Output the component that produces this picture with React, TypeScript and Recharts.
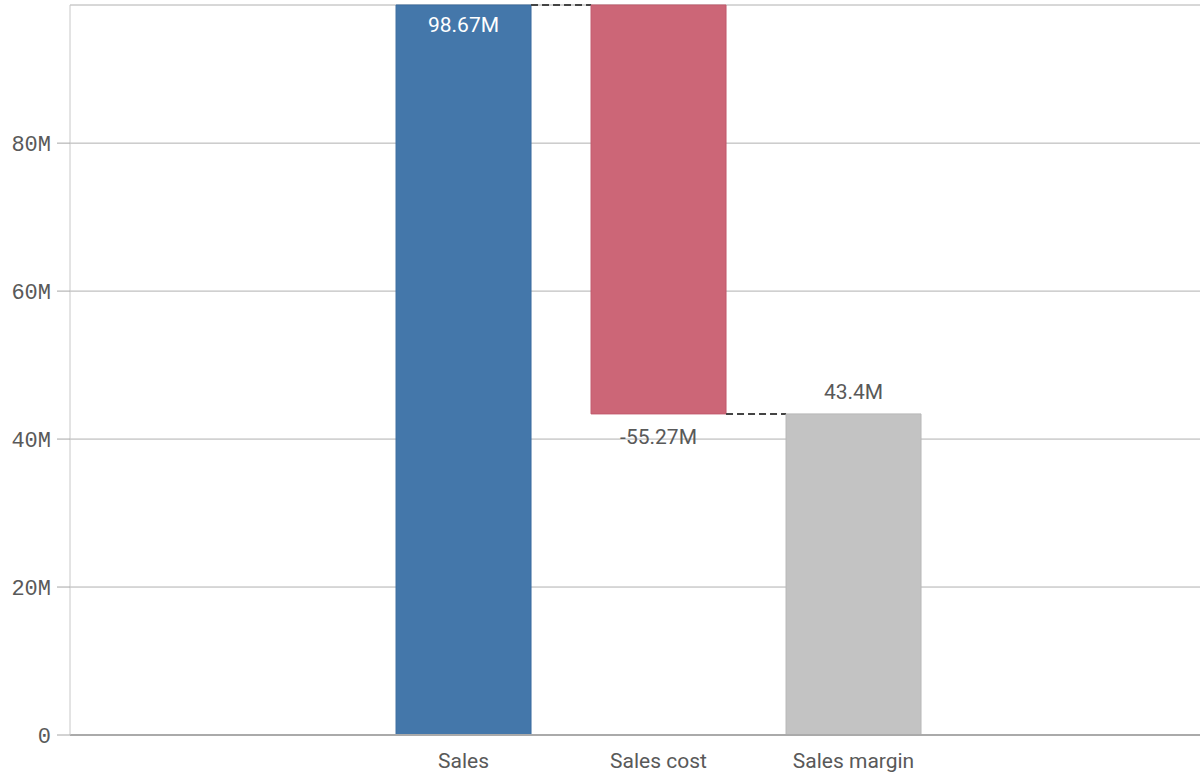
import { BarChart, Bar, XAxis, YAxis, CartesianGrid, Cell, LabelList, Rectangle } from "recharts";

const categories = ["Sales", "Sales cost", "Sales margin"];
const bases = [0, 43.4, 0]; // invisible offset, in millions
const values = [98.67, 55.27, 43.4];
const falling = [false, true, false];
const valueLabels = ["98.67M", "-55.27M", "43.4M"];
const yTicks = [0, 20, 40, 60, 80];
const yMax = 98.67;

const colors = ["#4477aa", "#cc6677", "#c3c3c3"];
const borders = ["#3b6c9f", "#c25a6c", "#b8b8b8"];
const catGap = 0.154;

const data = categories.map((name, i) => ({
  name,
  base: bases[i],
  value: values[i],
  falling: falling[i],
  label: valueLabels[i],
}));

const textFont = "Roboto, sans-serif";

function WaterfallBar(props: any) {
  const { x, y, width, height, index, fill, stroke } = props;
  const gap = (width * (2 * catGap)) / (1 - 2 * catGap);
  const last = index === data.length - 1;
  const ly = data[index].falling ? y + height : y;
  return (
    <g>
      <Rectangle x={x} y={y} width={width} height={height} fill={fill} stroke={stroke} strokeWidth={1} />
      {!last && (
        <line x1={x + width} x2={x + width + gap} y1={ly} y2={ly} stroke="#444444" strokeWidth={2} strokeDasharray="7 4" />
      )}
    </g>
  );
}

function ValueLabel(props: any) {
  const { x, y, width, height, index } = props;
  const d = data[index];
  const cx = x + width / 2;
  let ty = y - 22;
  let fill = "#595959";
  if (index === 0) {
    ty = y + 20;
    fill = "#ffffff";
  } else if (d.falling) {
    ty = y + height + 23;
  }
  return (
    <text x={cx} y={ty} textAnchor="middle" dominantBaseline="central" fontFamily={textFont} fontSize={21} fill={fill}>
      {d.label}
    </text>
  );
}

export default function App() {
  return (
    <div style={{ position: "absolute", left: 0, top: 0, background: "#fff" }}>
      <BarChart
        width={1203}
        height={781}
        data={data}
        margin={{ top: 5, right: 3, bottom: 0, left: 0 }}
        barCategoryGap={`${catGap * 100}%`}
      >
        <CartesianGrid vertical={false} stroke="#b0b0b0" />
        <XAxis
          dataKey="name"
          height={46}
          padding={{ left: 296, right: 249 }}
          axisLine={{ stroke: "#aaaaaa", strokeWidth: 2 }}
          tickLine={false}
          tick={{ fill: "#595959", fontSize: 21, fontFamily: textFont }}
          tickMargin={12}
        />
        <YAxis
          width={70}
          domain={[0, yMax]}
          ticks={yTicks}
          tickFormatter={(v: number) => (v === 0 ? "0" : `${v}M`)}
          axisLine={{ stroke: "#c8c8c8" }}
          tickLine={{ stroke: "#a6a6a6" }}
          tickSize={13}
          tickMargin={6}
          tick={{ fill: "#595959", fontSize: 22, fontFamily: "'Liberation Mono', monospace" }}
        />
        <Bar dataKey="base" stackId="w" fill="transparent" isAnimationActive={false} />
        <Bar dataKey="value" stackId="w" isAnimationActive={false} shape={WaterfallBar}>
          {data.map((d, i) => (
            <Cell key={d.name} fill={colors[i]} stroke={borders[i]} />
          ))}
          <LabelList dataKey="label" content={ValueLabel} />
        </Bar>
      </BarChart>
    </div>
  );
}
